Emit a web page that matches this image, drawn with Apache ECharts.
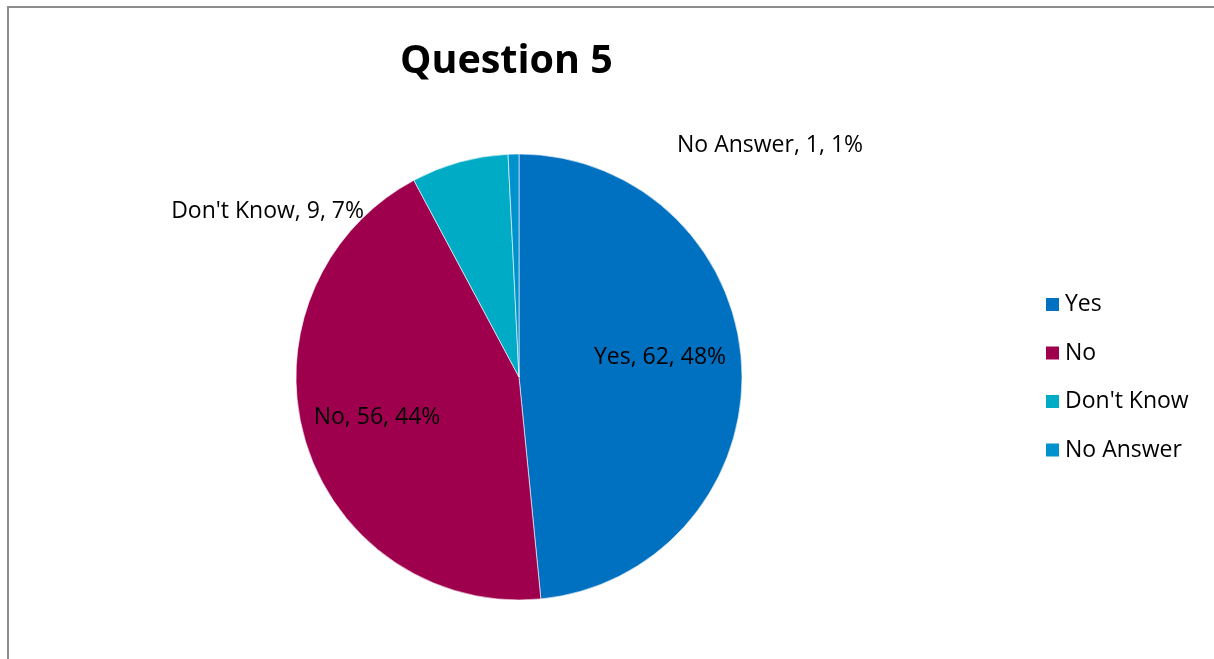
<!DOCTYPE html>
<html>
<head>
<meta charset="utf-8">
<script src="https://cdn.jsdelivr.net/npm/echarts@6/dist/echarts.min.js"></script>
<style>
  html, body { margin: 0; padding: 0; background: #fff; }
  #chart { width: 1214px; height: 659px; }
</style>
</head>
<body>
<div id="chart"></div>
<script>
// Survey answers for question 5
const categories = ['Yes', 'No', "Don't Know", 'No Answer'];
const counts = [62, 56, 9, 1];
const sliceColors = ['#0070C0', '#9E004E', '#00ABC6', '#0092CC'];

// Where each slice label sits: [x, y, textAlign]
const labelSpots = [
  [660, 357, 'center'],
  [377, 417, 'center'],
  [364, 211, 'right'],
  [677, 145, 'left']
];

const FONT = '"Open Sans", "DejaVu Sans", sans-serif';

const chart = echarts.init(document.getElementById('chart'), null, { renderer: 'canvas' });

chart.setOption({
  backgroundColor: '#ffffff',
  animation: false,
  color: sliceColors,
  title: {
    text: 'Question 5',
    left: 395,
    top: 37,
    textStyle: { fontFamily: FONT, fontSize: 39.5, fontWeight: 'bold', color: '#000' }
  },
  legend: {
    orient: 'vertical',
    left: 1044,
    top: 290.5,
    padding: 0,
    itemWidth: 15,
    itemHeight: 15,
    itemGap: 20.5,
    icon: 'rect',
    data: categories,
    textStyle: { fontFamily: FONT, fontSize: 23, lineHeight: 28, color: '#000' }
  },
  graphic: [{
    type: 'polyline',
    shape: { points: [[8, 700], [8, 7], [1300, 7]] },
    style: { stroke: '#8c8c8c', lineWidth: 2, fill: null },
    silent: true
  }],
  series: [{
    type: 'pie',
    center: [519, 377],
    radius: 223,
    startAngle: 90,
    clockwise: true,
    avoidLabelOverlap: false,
    itemStyle: { borderColor: '#ffffff', borderWidth: 0.6 },
    label: {
      show: true,
      position: 'inside',
      formatter: function (p) { return p.name + ', ' + p.value + ', ' + Math.round(p.percent) + '%'; },
      fontFamily: FONT,
      fontSize: 23,
      color: '#000'
    },
    labelLine: { show: false },
    labelLayout: function (params) {
      const s = labelSpots[params.dataIndex];
      return { x: s[0], y: s[1], align: s[2], verticalAlign: 'middle' };
    },
    emphasis: { disabled: true },
    data: categories.map(function (name, i) { return { name: name, value: counts[i] }; })
  }]
});
</script>
</body>
</html>
